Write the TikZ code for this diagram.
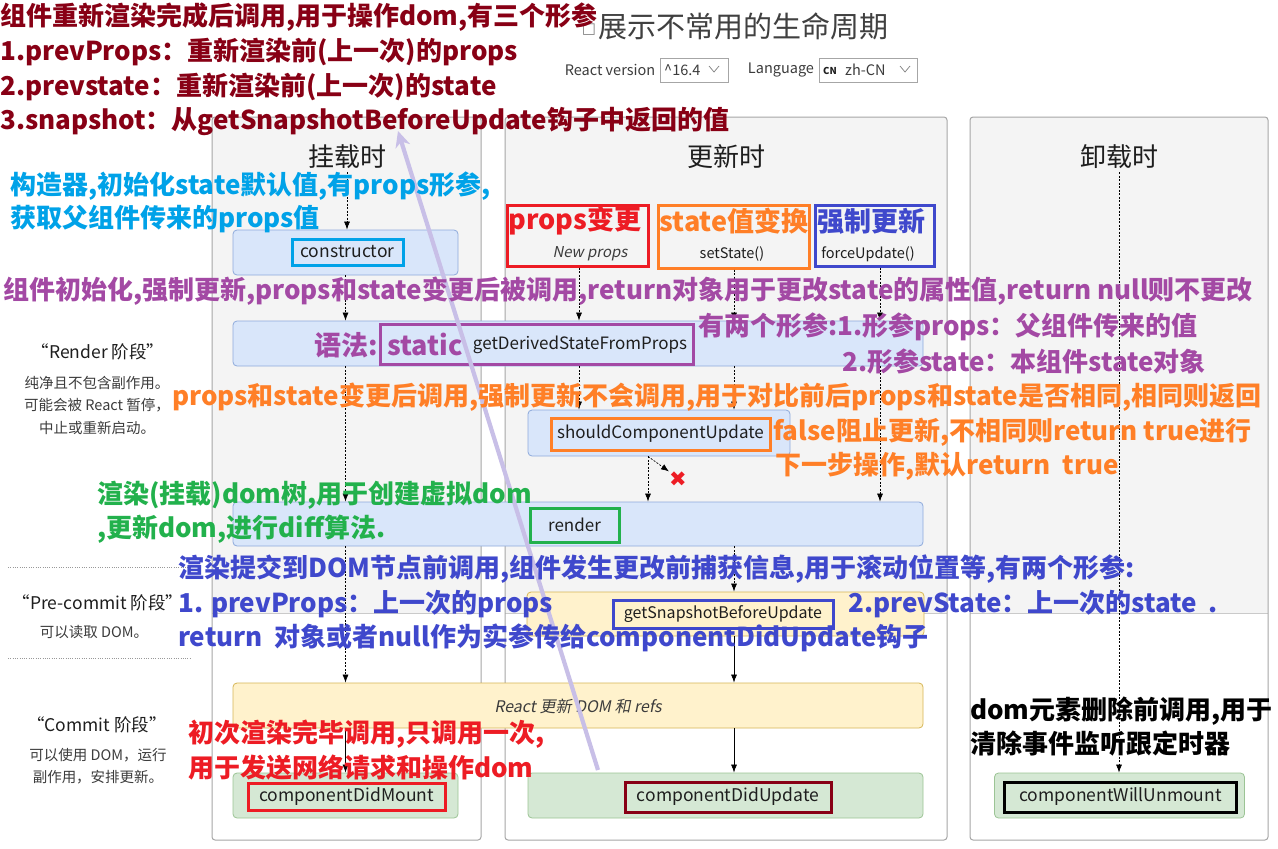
\documentclass[tikz,border=0pt]{standalone}
\usepackage{fontspec}
\setmainfont{Noto Sans CJK SC}
\newfontfamily\obliquecjk{Noto Sans CJK SC}[FakeSlant=0.2]
\newfontfamily\dejavu{DejaVu Sans}
\usetikzlibrary{arrows.meta}
\newcommand\fsz[1]{\fontsize{#1}{#1}\selectfont}

% palette
\definecolor{panelfill}{HTML}{F4F4F4}
\definecolor{panelline}{HTML}{A6A6A6}
\definecolor{bluefill}{HTML}{D9E6FA}
\definecolor{blueline}{HTML}{8EAADB}
\definecolor{yelfill}{HTML}{FFF2CC}
\definecolor{yelline}{HTML}{D6B656}
\definecolor{grnfill}{HTML}{D5E8D4}
\definecolor{grnline}{HTML}{9CC495}
\definecolor{darkred}{HTML}{880015}
\definecolor{skyblue}{HTML}{00A2E8}
\definecolor{purp}{HTML}{A349A4}
\definecolor{orng}{HTML}{FF7F27}
\definecolor{grn}{HTML}{22B14C}
\definecolor{indigo}{HTML}{3F48CC}
\definecolor{redc}{HTML}{ED1C24}
\definecolor{lav}{HTML}{C8BFE7}
\definecolor{txtdark}{HTML}{1E1E1E}
\definecolor{txtgray}{HTML}{3C3C3C}

\begin{document}
\begin{tikzpicture}[x=1pt,y=-1pt,
  stage/.style={draw=blueline, fill=bluefill, rounded corners=4pt, line width=0.8pt, inner sep=0pt},
  yelstage/.style={stage, draw=yelline, fill=yelfill},
  grnstage/.style={stage, draw=grnline, fill=grnfill},
  tag/.style={draw=#1, line width=3pt, inner sep=0pt, text=txtdark, font=\fsz{17}},
  head/.style={font=\fsz{26}, text=txtdark, inner sep=3pt},
  note/.style={font=\bfseries\fsz{26}, anchor=west, inner sep=0pt},
  phase/.style={font=\fsz{17.5}, text=txtdark, inner sep=0pt},
  phasesub/.style={font=\fontsize{14.5}{22.5}\selectfont, text=txtgray, align=center, inner sep=0pt},
  trigger/.style={draw=#1, line width=3pt, inner sep=0pt},
  small/.style={font=\fsz{14.5}, text=txtdark, inner sep=0pt},
  flowd/.style={line width=0.7pt, dash pattern=on 2pt off 1.5pt, -{Latex[length=8pt,width=6pt]}},
  flows/.style={line width=0.7pt, -{Latex[length=8pt,width=6pt]}},
  sepline/.style={line width=0.9pt, dash pattern=on 0.9pt off 1.4pt, draw=gray!80},
  dropbox/.style={draw=gray!70, line width=0.7pt, fill=white}
]
\useasboundingbox (0,0) rectangle (1278,849);
\fill[white] (0,0) rectangle (1278,849);

% column panels: grey upper part, white lower part
\foreach \l/\r in {212/481, 505/947, 970/1268}{
  \begin{scope}
    \clip[rounded corners=3pt] (\l,117) rectangle (\r,840);
    \fill[panelfill] (\l,117) rectangle (\r,613);
    \draw[panelline!60, line width=0.6pt] (\l,613) -- (\r,613);
  \end{scope}
  \draw[panelline, line width=1pt, rounded corners=3pt] (\l,117) rectangle (\r,840);
}

% title and selectors
\node[font=\fsz{15}, text=gray, inner sep=0pt] (tofu) at (589,30) {\dejavu □};
\node[font=\fsz{29}, text=txtdark!85, anchor=west, inner sep=0pt] (title) at (598,26) {展示不常用的生命周期};
\node[small, text=txtgray] (rvlab) at (610,70) {React version};
\node[dropbox, minimum width=68pt, minimum height=24pt] (rvbox) at (694,70) {};
\node[small, anchor=west, text=txtgray] (rvval) at (664,70) {\textasciicircum16.4};
\draw[gray, line width=0.7pt] (709,66) -- (714,72) -- (719,66);
\node[small, text=txtgray] (langlab) at (781,70) {Language};
\node[dropbox, minimum width=98pt, minimum height=24pt] (langbox) at (868,70) {};
\node[font=\bfseries\fsz{9.5}, text=txtdark, anchor=west, inner sep=0pt] (cn) at (823,71) {CN};
\node[small, anchor=west, text=txtgray] (langval) at (845,70) {zh-CN};
\draw[gray, line width=0.7pt] (900,66) -- (905,72) -- (910,66);

% column headers
\node[head] (mhead) at (347,157) {挂载时};
\node[head] (uhead) at (726,157) {更新时};
\node[head] (xhead) at (1119,157) {卸载时};

% phase descriptions on the left
\node[phase] (renderph) at (98,352) {“Render 阶段”};
\node[phasesub] (renderdesc) at (97,405) {纯净且不包含副作用。\\可能会被 React 暂停，\\中止或重新启动。};
\draw[sepline] (8,567) -- (190,567);
\node[phase] (precph) at (98,603) {“Pre-commit 阶段”};
\node[phasesub] (precdesc) at (94,632) {可以读取 DOM。};
\draw[sepline] (8,658) -- (190,658);
\node[phase] (commitph) at (97,725) {“Commit 阶段”};
\node[phasesub] (commitdesc) at (98,766) {可以使用 DOM，运行\\副作用，安排更新。};

% triggers of an update
\node[trigger=redc, minimum width=141pt, minimum height=61pt] (props) at (577.5,235.5) {};
\node[font=\bfseries\fsz{27}, text=redc, inner sep=0pt] (propst) at (575,221) {props变更};
\node[font=\obliquecjk\fsz{15}, text=txtgray, inner sep=0pt] (propss) at (590,254) {New props};
\node[trigger=orng, minimum width=151pt, minimum height=63pt] (state) at (733.5,236.5) {};
\node[font=\bfseries\fsz{27}, text=orng, inner sep=0pt] (statet) at (734,221) {state值变换};
\node[font=\fsz{14.5}, text=txtdark, inner sep=0pt] (states) at (732,254) {setState()};
\node[trigger=indigo, minimum width=119pt, minimum height=61pt] (force) at (874.5,235.5) {};
\node[font=\bfseries\fsz{27}, text=indigo, inner sep=0pt] (forcet) at (871,221) {强制更新};
\node[font=\fsz{14.5}, text=txtdark, inner sep=0pt] (forces) at (868,254) {forceUpdate()};

% lifecycle stages
\node[stage, minimum width=225pt, minimum height=45pt] (cons) at (345.5,252.5) {};
\node[tag=skyblue, minimum width=111pt, minimum height=26pt, font=\fsz{17.5}] (consl) at (347.5,252) {constructor};

\node[stage, minimum width=690pt, minimum height=45pt] (gd) at (578,343.5) {};
\node[tag=purp, minimum width=313pt, minimum height=40pt] (gdl) at (536.5,344) {};
\node[font=\bfseries\fsz{27}, text=purp, anchor=west, inner sep=0pt] (gdstatic) at (387,344) {static};
\node[font=\fsz{17}, text=txtdark, inner sep=0pt] (gdname) at (580,345) {getDerivedStateFromProps};
\node[font=\bfseries\fsz{27}, text=purp, anchor=west, inner sep=0pt] (syntax) at (314,345) {语法:};

\node[stage, minimum width=262pt, minimum height=46pt] (scu) at (659,433) {};
\node[tag=orng, minimum width=219pt, minimum height=32pt] (scul) at (660.5,434) {shouldComponentUpdate};
\node[text=redc, font=\dejavu\bfseries\fsz{21}, inner sep=0pt] (xmark) at (678,479) {✖};

\node[stage, minimum width=690pt, minimum height=44pt] (render) at (578,524) {};
\node[tag=grn, minimum width=89pt, minimum height=34pt] (renl) at (574.5,525) {render};

\node[yelstage, minimum width=397pt, minimum height=44pt] (snap) at (725.5,614) {};
\node[tag=indigo, minimum width=220pt, minimum height=28pt, font=\fsz{16}] (snapl) at (723,614) {getSnapshotBeforeUpdate};

\node[yelstage, minimum width=690pt, minimum height=45pt] (dom) at (578,705.5) {};
\node[font=\obliquecjk\fsz{16}, text=txtgray, inner sep=0pt] (domt) at (578,706) {React 更新 DOM 和 refs};

\node[grnstage, minimum width=225pt, minimum height=45pt] (cdm) at (345.5,795.5) {};
\node[tag=redc, minimum width=197pt, minimum height=27pt, font=\fsz{17.5}] (cdml) at (346.5,796.5) {componentDidMount};
\node[grnstage, minimum width=395pt, minimum height=45pt] (cdu) at (725.5,795.5) {};
\node[tag=darkred, minimum width=206pt, minimum height=30pt, font=\fsz{17.5}] (cdul) at (728,797) {componentDidUpdate};
\node[grnstage, minimum width=250pt, minimum height=45pt] (cwu) at (1119.5,795.5) {};
\node[tag=black, minimum width=232pt, minimum height=30pt, font=\fsz{17.5}] (cwul) at (1120.5,797) {componentWillUnmount};

% x positions of the update-column flows
\coordinate (cA) at (579,0);
\coordinate (cB) at (734,0);
\coordinate (cC) at (880,0);
\coordinate (cD) at (648,0);

% mounting flow
\draw[flowd] (mhead.south) -- (mhead.south |- cons.north);
\draw[flowd] (cons.south) -- (cons.south |- gd.north);
\draw[flowd] (gd.south -| cons.south) -- (render.north -| cons.south);
\draw[flowd] (render.south -| cons.south) -- (dom.north -| cons.south);
\draw[flows] (dom.south -| cons.south) -- (cdm.north -| cons.south);

% updating flow
\draw[flowd] (props.south -| cA) -- (gd.north -| cA);
\draw[flowd] (state.south -| cB) -- (gd.north -| cB);
\draw[flowd] (force.south -| cC) -- (gd.north -| cC);
\draw[flowd] (gd.south -| cA) -- (scu.north -| cA);
\draw[flowd] (gd.south -| cB) -- (scu.north -| cB);
\draw[flowd] (gd.south -| cC) -- (render.north -| cC);
\draw[flowd] (scu.south -| cD) -- (render.north -| cD);
\draw[flowd] (scu.south -| cD) -- (xmark.north west);
\draw[flowd] (render.south -| cB) -- (snap.north -| cB);
\draw[flows] (snap.south -| cB) -- (dom.north -| cB);
\draw[flows] (dom.south -| cB) -- (cdu.north -| cB);

% unmounting flow
\draw[flowd] (xhead.south) -- (xhead.south |- cwu.north);

% pointer from componentDidUpdate to its description
\coordinate (lavtail) at (598,770);
\coordinate (lavtip) at (398,131);
\draw[lav, line width=4.2pt, -{Stealth[length=16pt,width=15pt,inset=5pt]}] (lavtail) -- (lavtip);

% annotations
\node[note, text=darkred] (n1a) at (0,17) {组件重新渲染完成后调用,用于操作dom,有三个形参};
\node[note, text=darkred] (n1b) at (0,52) {1.prevProps：重新渲染前(上一次)的props};
\node[note, text=darkred] (n1c) at (0,87) {2.prevstate：重新渲染前(上一次)的state};
\node[note, text=darkred] (n1d) at (0,121) {3.snapshot：从getSnapshotBeforeUpdate钩子中返回的值};

\node[note, text=skyblue] (n2a) at (10,186) {构造器,初始化state默认值,有props形参,};
\node[note, text=skyblue] (n2b) at (10,219) {获取父组件传来的props值};

\node[note, text=purp] (n3a) at (3,291) {组件初始化,强制更新,props和state变更后被调用,return对象用于更改state的属性值,return null则不更改};
\node[note, text=purp] (n3b) at (698,327) {有两个形参:1.形参props：父组件传来的值};
\node[note, text=purp] (n3c) at (842,362) {2.形参state：本组件state对象};

\node[note, text=orng] (n4a) at (172,397) {props和state变更后调用,强制更新不会调用,用于对比前后props和state是否相同,相同则返回};
\node[note, text=orng] (n4b) at (773,432) {false阻止更新,不相同则return true进行};
\node[note, text=orng] (n4c) at (775,466) {下一步操作,默认return\ \ true};

\node[note, text=grn] (n5a) at (97,495) {渲染(挂载)dom树,用于创建虚拟dom};
\node[note, text=grn] (n5b) at (97,529) {,更新dom,进行diff算法.};

\node[note, text=indigo] (n6a) at (178,569) {渲染提交到DOM节点前调用,组件发生更改前捕获信息,用于滚动位置等,有两个形参:};
\node[note, text=indigo] (n6b) at (178,604) {1. prevProps：上一次的props};
\node[note, text=indigo] (n6c) at (848,604) {2.prevState：上一次的state\ \ .};
\node[note, text=indigo] (n6d) at (178,638) {return\ \ 对象或者null作为实参传给componentDidUpdate钩子};

\node[note, text=redc] (n7a) at (188,734) {初次渲染完毕调用,只调用一次,};
\node[note, text=redc] (n7b) at (188,768) {用于发送网络请求和操作dom};

\node[note, text=black] (n8a) at (970,711) {dom元素删除前调用,用于};
\node[note, text=black] (n8b) at (970,744) {清除事件监听跟定时器};
\end{tikzpicture}
\end{document}
